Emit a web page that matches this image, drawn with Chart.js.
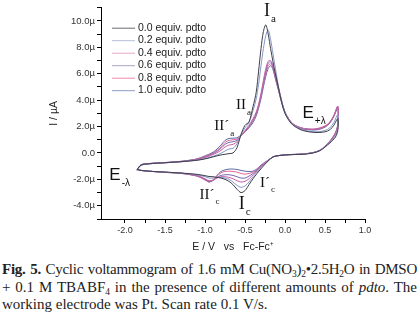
<!DOCTYPE html>
<html>
<head>
<meta charset="utf-8">
<script src="https://cdn.jsdelivr.net/npm/chart.js@4.4.0/dist/chart.umd.min.js"></script>
<style>
  html, body { margin: 0; padding: 0; background: #fff; }
  #wrap { position: relative; width: 420px; height: 321px; overflow: hidden; }
  #cv { position: absolute; left: 0; top: 0; }
  .cap { position: absolute; left: 2px; width: 415px; font-family: "Liberation Serif", "Times New Roman", serif;
         font-size: 15px; color: #222; white-space: nowrap; line-height: 17px; }
  .just { text-align: justify; text-align-last: justify; }
  .tight { letter-spacing: -0.25px; }
  .cap sub { font-size: 9.5px; vertical-align: -3px; line-height: 0; }
</style>
</head>
<body>
<div id="wrap">
  <canvas id="cv" width="420" height="256"></canvas>
  <div class="cap just tight" style="top:261px"><b>Fig. 5.</b> Cyclic voltammogram of 1.6 mM Cu(NO<sub>3</sub>)<sub>2</sub>•2.5H<sub>2</sub>O in DMSO</div>
  <div class="cap just" style="top:279px">+ 0.1 M TBABF<sub>4</sub> in the presence of different amounts of <i>pdto</i>. The</div>
  <div class="cap" style="top:296px">working electrode was Pt. Scan rate 0.1 V/s.</div>
</div>
<script>
// potential grid (V vs Fc-Fc+), forward sweep then reverse sweep
const forwardE = [-1.85, -1.80, -1.70, -1.50, -1.30, -1.10, -1.00, -0.90, -0.85, -0.80, -0.75, -0.70, -0.65,
  -0.60, -0.55, -0.50, -0.45, -0.40, -0.36, -0.33, -0.30, -0.27, -0.24, -0.21, -0.18, -0.15, -0.12, -0.08,
  -0.04, 0.00, 0.05, 0.10, 0.20, 0.30, 0.40, 0.50, 0.56, 0.61, 0.66];
const reverseE = [0.66, 0.63, 0.56, 0.50, 0.44, 0.35, 0.23, 0.10, 0.00, -0.10, -0.15, -0.20, -0.25, -0.30,
  -0.35, -0.40, -0.45, -0.50, -0.55, -0.60, -0.65, -0.70, -0.75, -0.80, -0.85, -0.90, -0.95, -1.00, -1.10,
  -1.30, -1.50, -1.70, -1.80, -1.85];

// currents in µA
const fwd00 = [-1.25, -0.92, -0.82, -0.74, -0.66, -0.55, -0.45, -0.30, -0.22, -0.15, -0.10, -0.05, 0.00, 0.40,
  1.40, 2.10, 2.35, 3.50, 4.60, 6.20, 7.90, 9.20, 9.70, 9.00, 7.90, 6.90, 6.00, 4.90, 3.80, 3.00, 2.45, 2.10,
  1.75, 1.60, 1.55, 1.60, 1.75, 2.10, 2.60];
const rev00 = [1.70, 1.20, 0.75, 0.45, 0.18, 0.00, -0.10, -0.12, -0.15, -0.22, -0.30, -0.55, -0.85, -1.20,
  -1.55, -1.95, -2.40, -2.85, -3.00, -2.75, -2.40, -2.15, -2.00, -1.90, -1.85, -1.80, -1.78, -1.72, -1.62,
  -1.52, -1.45, -1.38, -1.32, -1.25];

const fwd02 = [-1.30, -0.95, -0.83, -0.75, -0.67, -0.55, -0.42, -0.25, -0.15, -0.02, 0.15, 0.30, 0.35, 0.70,
  1.40, 1.90, 2.30, 3.20, 4.10, 5.20, 6.60, 7.90, 8.90, 9.30, 8.60, 7.50, 6.40, 5.00, 3.90, 3.05, 2.50, 2.15,
  1.80, 1.65, 1.60, 1.70, 1.90, 2.30, 2.90];
const rev02 = [1.90, 1.30, 0.80, 0.48, 0.20, 0.02, -0.08, -0.12, -0.15, -0.22, -0.30, -0.50, -0.80, -1.10,
  -1.45, -1.80, -2.20, -2.50, -2.60, -2.45, -2.20, -2.00, -1.90, -1.85, -1.85, -1.90, -1.90, -1.80, -1.65,
  -1.52, -1.45, -1.38, -1.32, -1.25];

const fwd04 = [-1.30, -0.93, -0.82, -0.74, -0.66, -0.50, -0.35, -0.12, 0.02, 0.20, 0.45, 0.60, 0.65, 0.85,
  1.30, 1.70, 2.10, 2.60, 3.10, 3.70, 4.50, 5.50, 6.40, 6.95, 7.00, 6.60, 5.90, 4.90, 3.90, 3.10, 2.55, 2.20,
  1.90, 1.80, 1.80, 2.00, 2.30, 2.80, 3.50];
const rev04 = [2.10, 1.45, 0.85, 0.50, 0.20, 0.02, -0.08, -0.12, -0.15, -0.22, -0.30, -0.50, -0.78, -1.05,
  -1.35, -1.65, -1.95, -2.15, -2.20, -2.10, -1.95, -1.85, -1.80, -1.80, -1.90, -2.05, -2.10, -1.95, -1.70,
  -1.53, -1.46, -1.38, -1.32, -1.25];

const fwd06 = [-1.30, -0.90, -0.80, -0.73, -0.65, -0.48, -0.30, -0.05, 0.12, 0.35, 0.65, 0.80, 0.85, 0.95,
  1.30, 1.65, 2.00, 2.50, 3.00, 3.60, 4.40, 5.30, 6.20, 6.80, 6.90, 6.50, 5.80, 4.80, 3.85, 3.10, 2.55, 2.20,
  1.90, 1.80, 1.80, 2.00, 2.30, 2.80, 3.50];
const rev06 = [2.15, 1.50, 0.88, 0.52, 0.22, 0.03, -0.07, -0.11, -0.14, -0.21, -0.30, -0.50, -0.75, -1.00,
  -1.30, -1.55, -1.75, -1.90, -1.90, -1.80, -1.70, -1.65, -1.65, -1.70, -1.85, -2.10, -2.15, -2.00, -1.72,
  -1.53, -1.46, -1.38, -1.32, -1.25];

const fwd08 = [-1.30, -0.90, -0.80, -0.73, -0.64, -0.46, -0.25, 0.00, 0.20, 0.45, 0.80, 0.95, 1.00, 1.05,
  1.30, 1.60, 1.95, 2.40, 2.90, 3.50, 4.30, 5.20, 6.00, 6.60, 6.75, 6.40, 5.70, 4.75, 3.80, 3.05, 2.55, 2.20,
  1.90, 1.80, 1.85, 2.05, 2.35, 2.85, 3.55];
const rev08 = [2.20, 1.55, 0.90, 0.52, 0.22, 0.03, -0.07, -0.11, -0.14, -0.21, -0.30, -0.50, -0.72, -0.95,
  -1.25, -1.45, -1.55, -1.60, -1.55, -1.45, -1.40, -1.38, -1.40, -1.50, -1.75, -2.05, -2.20, -2.05, -1.75,
  -1.54, -1.47, -1.38, -1.32, -1.25];

const fwd10 = [-1.30, -0.90, -0.80, -0.72, -0.63, -0.45, -0.22, 0.05, 0.30, 0.60, 0.95, 1.10, 1.12, 1.15,
  1.35, 1.60, 1.90, 2.30, 2.80, 3.40, 4.10, 5.00, 5.80, 6.40, 6.60, 6.30, 5.60, 4.70, 3.75, 3.00, 2.50, 2.15,
  1.85, 1.75, 1.75, 1.95, 2.25, 2.75, 3.40];
const rev10 = [2.10, 1.45, 0.85, 0.50, 0.20, 0.02, -0.08, -0.12, -0.15, -0.22, -0.30, -0.50, -0.70, -0.92,
  -1.20, -1.38, -1.40, -1.38, -1.32, -1.25, -1.22, -1.22, -1.28, -1.40, -1.70, -2.05, -2.20, -2.00, -1.75,
  -1.55, -1.47, -1.38, -1.32, -1.25];

const seriesLabels = ['0.0 equiv. pdto', '0.2 equiv. pdto', '0.4 equiv. pdto',
                      '0.6 equiv. pdto', '0.8 equiv. pdto', '1.0 equiv. pdto'];
const seriesFwd = [fwd00, fwd02, fwd04, fwd06, fwd08, fwd10];
const seriesRev = [rev00, rev02, rev04, rev06, rev08, rev10];
const colors = ['#3e3e4a', '#8597c6', '#c763a6', '#7b68ae', '#e06896', '#5d6ba6'];
const legendColors = ['#6a6a72', '#b4bed6', '#e4a8c8', '#aaa2c8', '#f08aa8', '#8e9ac0'];

// peak / switching labels (placed in data units)
const peakLabels = [
  { main: 'I', sub: 'a', E: -0.225, I: 10.75, font: 'serif', size: 18 },
  { main: 'II', sub: 'a', E: -0.55, I: 3.6, font: 'serif', size: 15 },
  { main: 'II\u00b4', sub: 'a', E: -0.79, I: 2.0, font: 'serif', size: 15 },
  { main: 'E', sub: '+\u03bb', E: 0.29, I: 3.0, font: 'sans', size: 17 },
  { main: 'E', sub: '-\u03bb', E: -2.125, I: -1.7, font: 'sans', size: 17 },
  { main: 'II\u00b4', sub: 'c', E: -0.975, I: -3.2, font: 'serif', size: 15 },
  { main: 'I', sub: 'c', E: -0.54, I: -3.85, font: 'serif', size: 18 },
  { main: 'I\u00b4', sub: 'c', E: -0.25, I: -2.3, font: 'serif', size: 15 }
];

const datasets = seriesLabels.map((lab, k) => ({
  label: lab,
  data: forwardE.map((e, i) => ({ x: e, y: seriesFwd[k][i] }))
    .concat(reverseE.map((e, i) => ({ x: e, y: seriesRev[k][i] }))),
  borderColor: colors[k],
  borderWidth: 1,
  pointRadius: 0,
  showLine: true,
  tension: 0.3,
  fill: false
}));

const FAMILY = { serif: '"Liberation Serif", serif', sans: '"Liberation Sans", Arial, sans-serif' };

const extras = {
  id: 'cvExtras',
  afterDraw(chart) {
    const ctx = chart.ctx, xs = chart.scales.x, ys = chart.scales.y, area = chart.chartArea;
    ctx.save();
    // legend in the upper left
    ctx.font = '10.5px ' + FAMILY.sans;
    ctx.textBaseline = 'middle';
    ctx.textAlign = 'left';
    seriesLabels.forEach((lab, k) => {
      const y = area.top + 20 + k * 12.5;
      ctx.strokeStyle = legendColors[k];
      ctx.lineWidth = 1;
      ctx.beginPath();
      ctx.moveTo(area.left + 11, y + 0.5);
      ctx.lineTo(area.left + 34, y + 0.5);
      ctx.stroke();
      ctx.fillStyle = '#222';
      ctx.fillText(lab, area.left + 37, y);
    });
    // peak labels
    peakLabels.forEach(p => {
      const px = xs.getPixelForValue(p.E), py = ys.getPixelForValue(p.I);
      ctx.fillStyle = '#111';
      ctx.font = p.size + 'px ' + FAMILY[p.font];
      ctx.textAlign = 'center';
      ctx.fillText(p.main, px, py);
      const w = ctx.measureText(p.main).width;
      ctx.font = Math.round(p.size * 0.6) + 'px ' + FAMILY[p.font];
      ctx.textAlign = 'left';
      ctx.fillText(p.sub, px + w / 2 + 1, py + p.size * 0.45);
    });
    ctx.restore();
  }
};

new Chart(document.getElementById('cv').getContext('2d'), {
  type: 'scatter',
  data: { datasets },
  options: {
    responsive: false,
    animation: false,
    devicePixelRatio: 1,
    layout: { padding: { left: 48, right: 55, top: 4, bottom: 3 } },
    plugins: { legend: { display: false }, tooltip: { enabled: false } },
    scales: {
      x: {
        type: 'linear', min: -2.3, max: 1.0,
        afterFit: s => { s.height = 34; },
        afterBuildTicks: s => { s.ticks = s.ticks.filter(t => Math.abs(t.value * 4 - Math.round(t.value * 4)) < 1e-6); },
        border: { display: true, color: '#000', width: 1 },
        grid: { drawOnChartArea: false, drawTicks: true, tickLength: 4, color: '#000' },
        ticks: {
          stepSize: 0.25, autoSkip: false, maxRotation: 0, padding: 2, color: '#333',
          font: { family: FAMILY.sans, size: 9 },
          callback: v => Math.abs(v * 2 - Math.round(v * 2)) < 1e-6 ? v.toFixed(1) : ''
        },
        title: { display: true, text: 'E / V   vs   Fc-Fc\u207a', color: '#222',
                 font: { family: FAMILY.sans, size: 10.5 }, padding: { top: 0, bottom: 0 } }
      },
      y: {
        min: -5, max: 11,
        afterFit: s => { s.width = 53; },
        border: { display: true, color: '#000', width: 1 },
        grid: { drawOnChartArea: false, drawTicks: true, tickLength: 4, color: '#000' },
        ticks: {
          stepSize: 1, autoSkip: false, padding: 2, color: '#333',
          font: { family: FAMILY.sans, size: 9.5 },
          callback: v => (v % 2 !== 0) ? '' : (v === 0 ? '0.0' : v.toFixed(1) + '\u00b5')
        },
        title: { display: true, text: 'I / \u00b5A', color: '#222',
                 font: { family: FAMILY.sans, size: 10.5 }, padding: { top: 0, bottom: 0 } }
      }
    }
  },
  plugins: [extras]
});
</script>
</body>
</html>
